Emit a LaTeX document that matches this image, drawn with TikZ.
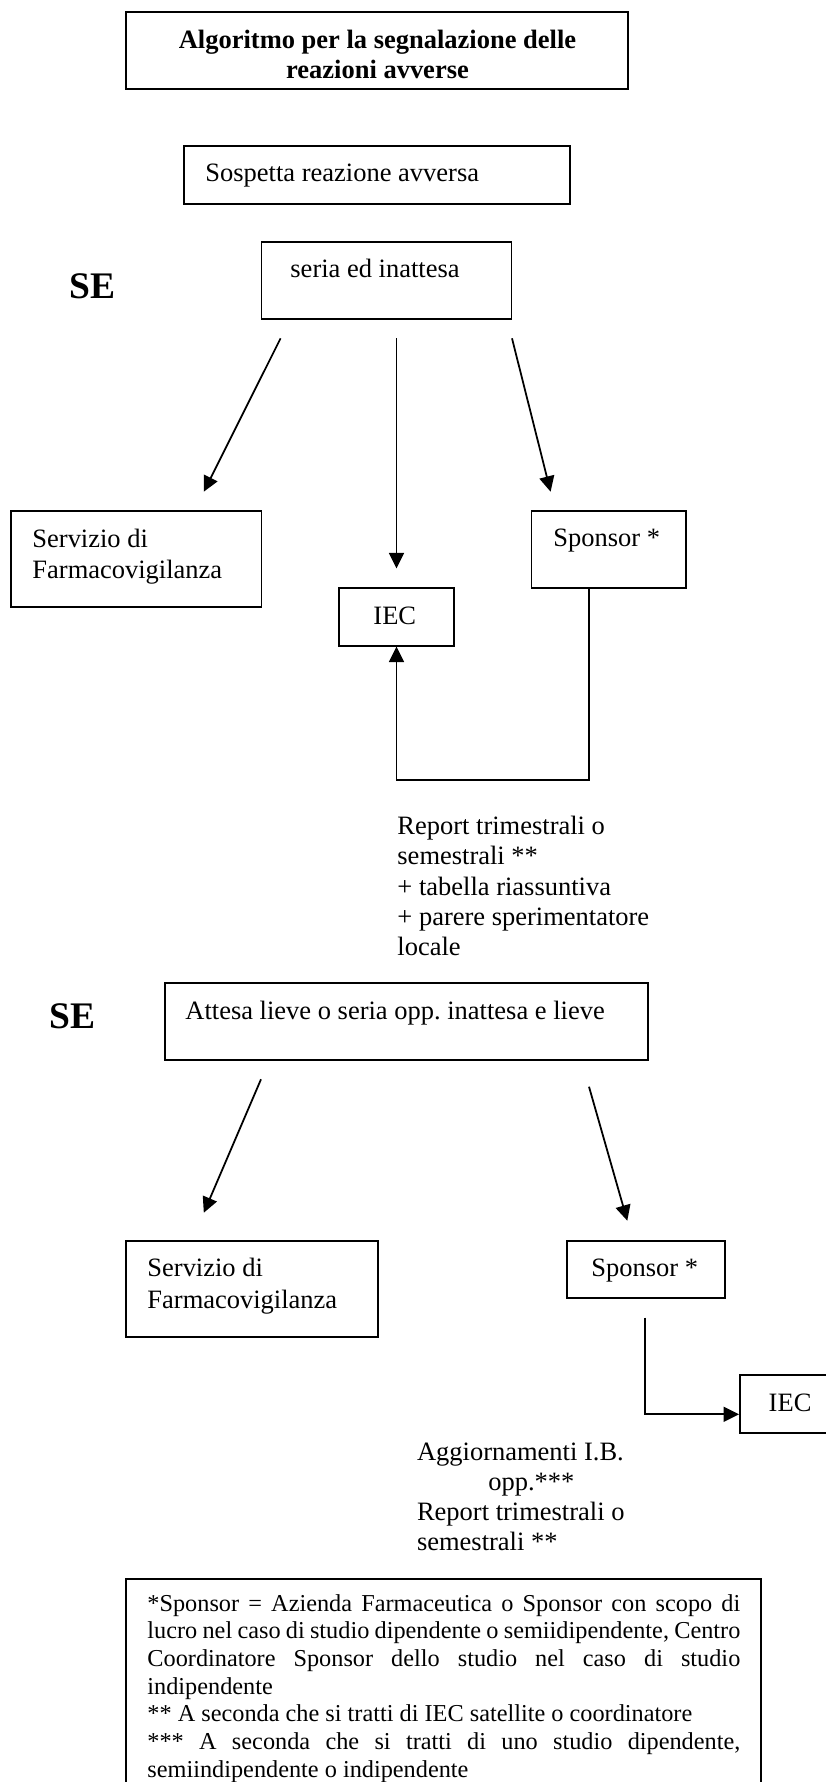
\documentclass[tikz,border=0pt]{standalone}
\usepackage{fontspec}
\setmainfont{Liberation Serif}
\usetikzlibrary{arrows.meta,fit}
\newlength\myfnw
\setlength\myfnw{268.6pt}
\newcommand\jline[1]{\hbox to \myfnw{#1}}
\newcommand\lline[1]{\hbox to \myfnw{#1\hfil}}
\frenchspacing
\begin{document}
\begin{tikzpicture}[x=0.453pt,y=-0.453pt,
  box/.style={draw, line width=0.85pt, inner sep=0pt},
  conn/.style={line width=0.8pt, -{Triangle[length=7pt,width=6.8pt]}},
  txt/.style={anchor=base west, inner sep=0pt, font=\fontsize{12}{13.8}\selectfont},
  selbl/.style={anchor=base west, inner sep=0pt, font=\fontsize{17}{20}\selectfont\bfseries}]
\useasboundingbox (0,0) rectangle (826,1782);
\clip (0,0) rectangle (826,1782);
% title
\node[box, fit={(126,11.7) (628,89.3)}] (title) {};
\node[anchor=base, inner sep=0pt] (titletxt) at (377.5,48.5)
  {\parbox[t]{220pt}{\centering\bfseries\fontsize{12}{13.6}\selectfont Algoritmo per la segnalazione delle\\reazioni avverse}};
% sospetta
\node[box, fit={(184,146) (570,204)}] (sosp) {};
\node[txt] (sosptxt) at (205,181.7) {Sospetta reazione avversa};
% seria ed inattesa
\node[box, fit={(261.5,242) (511.5,319.3)}] (seria) {};
\node[txt] (seriatxt) at (290,277.7) {seria ed inattesa};
\node[selbl] (se1) at (69,298.3) {SE};
% first row targets
\node[box, fit={(10.6,511) (261.5,607.3)}] (serv1) {};
\node[txt] (serv1txt) at (32,547) {\parbox[t]{200pt}{\fontsize{12}{14.2}\selectfont Servizio di\\Farmacovigilanza}};
\node[box, fit={(531.5,511) (686,588.3)}] (spon1) {};
\node[txt] (spon1txt) at (553,546.7) {Sponsor *};
\node[box, fit={(339,587.7) (454,645.7)}] (iec1) {};
\node[txt] (iec1txt) at (373,624) {IEC};
% arrows from seria
\coordinate (a1s) at (280.6,338.3); \coordinate (a1e) at (203.8,491.7);
\coordinate (a2s) at (396.5,338.3); \coordinate (a2e) at (396.5,568.3);
\coordinate (a3s) at (512,338.3);   \coordinate (a3e) at (550.6,491.7);
\draw[conn] (a1s) -- (a1e);
\draw[conn] (a2s) -- (a2e);
\draw[conn] (a3s) -- (a3e);
% loop sponsor -> IEC
\coordinate (loopx) at (589,780);
\draw[conn] (spon1.south -| loopx) -- (loopx) -| (iec1.south);
% report text
\node[txt] (rep) at (397,834.3) {\parbox[t]{200pt}{\fontsize{12}{13.77}\selectfont Report trimestrali o\\semestrali **\\+ tabella riassuntiva\\+ parere sperimentatore\\locale}};
% second case
\node[selbl] (se2) at (49,1028.3) {SE};
\node[box, fit={(164.6,982.7) (648,1060)}] (attesa) {};
\node[txt] (attesatxt) at (185,1019.3) {Attesa lieve o seria opp. inattesa e lieve};
\coordinate (b1s) at (261,1079.3); \coordinate (b1e) at (203.8,1212.7);
\coordinate (b2s) at (589,1086.7); \coordinate (b2e) at (627.3,1220.7);
\draw[conn] (b1s) -- (b1e);
\draw[conn] (b2s) -- (b2e);
\node[box, fit={(126,1240.7) (378,1337.3)}] (serv2) {};
\node[txt] (serv2txt) at (147,1276.7) {\parbox[t]{200pt}{\fontsize{12}{14.2}\selectfont Servizio di\\Farmacovigilanza}};
\node[box, fit={(567,1240.7) (725,1298.3)}] (spon2) {};
\node[txt] (spon2txt) at (591,1276.7) {Sponsor *};
\node[box, fit={(740,1375) (850,1433)}] (iec2) {};
\node[txt] (iec2txt) at (768.3,1411.7) {IEC};
\coordinate (c0) at (645,1317.7);
\coordinate (c1) at (645,1414.3);
\draw[conn] (c0) -- (c1) -- (iec2.west |- c1);
\node[txt] (agg) at (416.6,1460) {\parbox[t]{200pt}{\fontsize{12}{13.6}\selectfont Aggiornamenti I.B.\\\hspace*{32.3pt}opp.***\\Report trimestrali o\\semestrali **}};
% footnote box
\node[box, fit={(126,1579) (761,1810)}] (fnbox) {};
\node[anchor=base west, inner sep=0pt] (fntxt) at (147,1611) {\parbox[t]{\myfnw}{\fontsize{11}{12.55}\selectfont
\jline{*Sponsor = Azienda Farmaceutica o Sponsor con scopo di}
\jline{lucro nel caso di studio dipendente o semiidipendente, Centro}
\jline{Coordinatore Sponsor dello studio nel caso di studio}
\lline{indipendente}
\lline{** A seconda che si tratti di IEC satellite o coordinatore}
\jline{*** A seconda che si tratti di uno studio dipendente,}
\lline{semiindipendente o indipendente}}};
\end{tikzpicture}
\end{document}
